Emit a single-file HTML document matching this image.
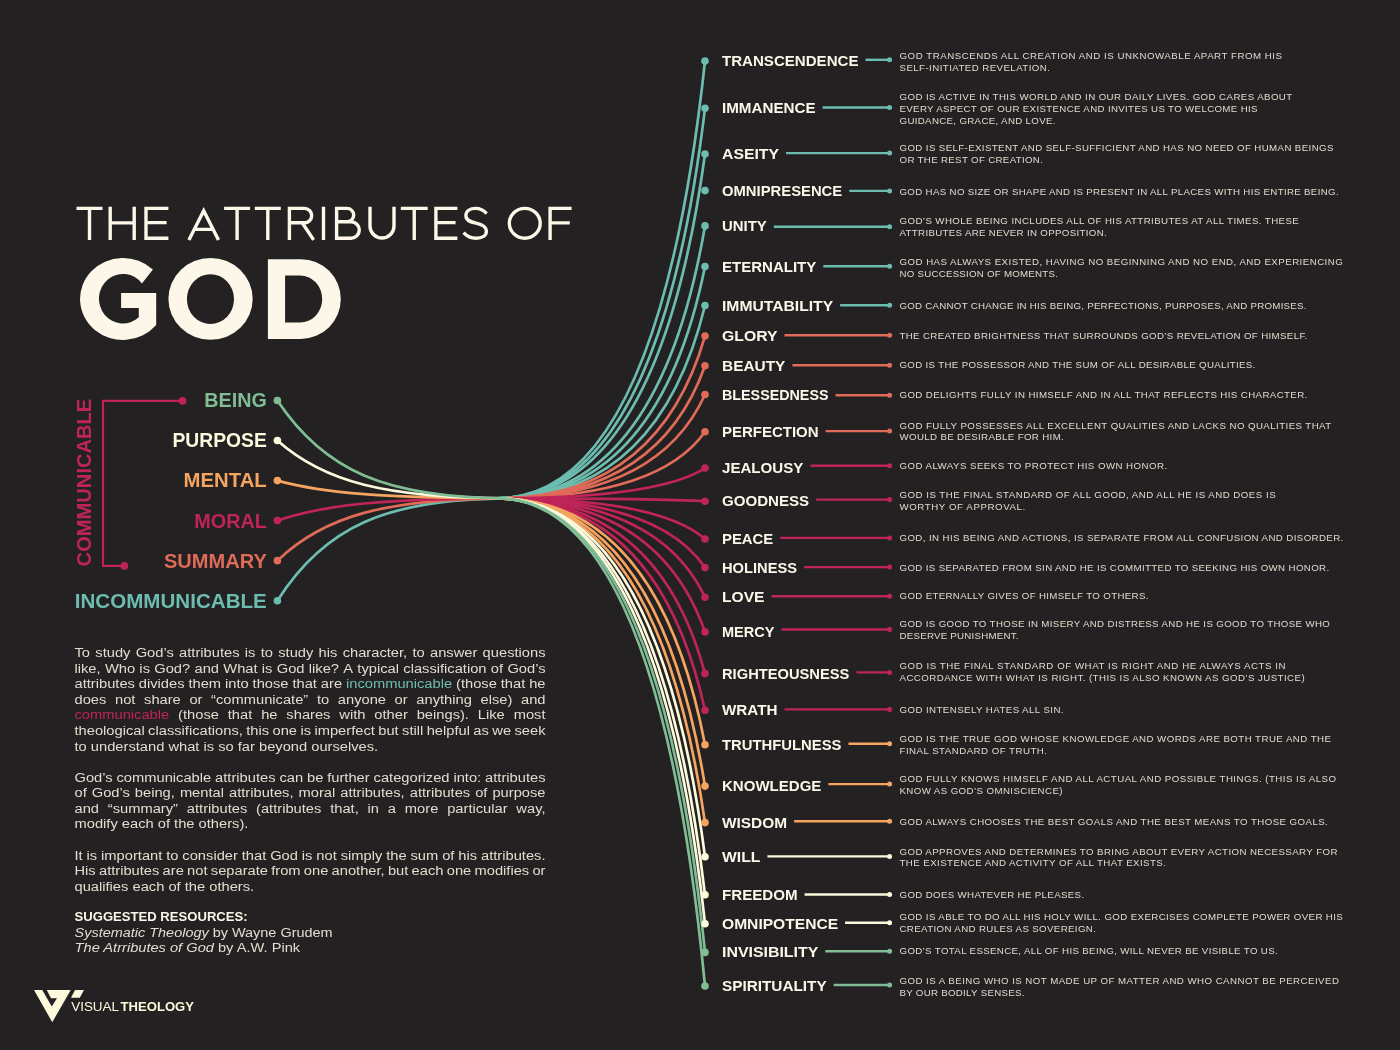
<!DOCTYPE html><html><head><meta charset="utf-8"><style>html,body{margin:0;padding:0;background:#232122;width:1400px;height:1050px;overflow:hidden}svg{display:block;will-change:transform}text{font-family:"Liberation Sans", sans-serif}</style></head><body>
<svg width="1400" height="1050" viewBox="0 0 1400 1050">
<rect width="1400" height="1050" fill="#232122"/>
<g fill="none" stroke-width="2.7" stroke-linecap="butt">
<path stroke="#6cbdb0" d="M277.4 600.7C323.4 528 385 498.3 510 498.3"/>
<path stroke="#df6b58" d="M277.4 560.66C323.4 516.38 385 498.3 510 498.3"/>
<path stroke="#bf2458" d="M277.4 520.62C323.4 504.77 385 498.3 510 498.3"/>
<path stroke="#f6a560" d="M277.4 480.58C323.4 493.16 385 498.3 510 498.3"/>
<path stroke="#fcf9dc" d="M277.4 440.54C323.4 481.55 385 498.3 510 498.3"/>
<path stroke="#80bd95" d="M277.4 400.5C323.4 469.94 385 498.3 510 498.3"/>
<path stroke="#6cbdb0" d="M497 498.3C605 498.3 674 349.62 705 61"/>
<path stroke="#6cbdb0" d="M497 498.3C605 498.3 674 365.7 705 108.3"/>
<path stroke="#6cbdb0" d="M497 498.3C605 498.3 674 381.24 705 154"/>
<path stroke="#6cbdb0" d="M497 498.3C605 498.3 674 405.68 705 225.9"/>
<path stroke="#6cbdb0" d="M497 498.3C605 498.3 674 419.52 705 266.6"/>
<path stroke="#6cbdb0" d="M497 498.3C605 498.3 674 432.75 705 305.5"/>
<path stroke="#df6b58" d="M497 498.3C605 498.3 674 443.15 705 336.1"/>
<path stroke="#df6b58" d="M497 498.3C605 498.3 674 453.22 705 365.7"/>
<path stroke="#df6b58" d="M497 498.3C605 498.3 674 463.01 705 394.5"/>
<path stroke="#df6b58" d="M497 498.3C605 498.3 674 475.69 705 431.8"/>
<path stroke="#bf2458" d="M497 498.3C605 498.3 674 488.03 705 468.1"/>
<path stroke="#bf2458" d="M497 498.3C605 498.3 674 499.29 705 501.2"/>
<path stroke="#bf2458" d="M497 498.3C605 498.3 674 512.14 705 539"/>
<path stroke="#bf2458" d="M497 498.3C605 498.3 674 521.86 705 567.6"/>
<path stroke="#bf2458" d="M497 498.3C605 498.3 674 531.93 705 597.2"/>
<path stroke="#bf2458" d="M497 498.3C605 498.3 674 543.72 705 631.9"/>
<path stroke="#bf2458" d="M497 498.3C605 498.3 674 557.9 705 673.6"/>
<path stroke="#bf2458" d="M497 498.3C605 498.3 674 570.35 705 710.2"/>
<path stroke="#f6a560" d="M497 498.3C605 498.3 674 582.11 705 744.8"/>
<path stroke="#f6a560" d="M497 498.3C605 498.3 674 596.15 705 786.1"/>
<path stroke="#f6a560" d="M497 498.3C605 498.3 674 608.56 705 822.6"/>
<path stroke="#fcf9dc" d="M497 498.3C605 498.3 674 620.16 705 856.7"/>
<path stroke="#fcf9dc" d="M497 498.3C605 498.3 674 633.11 705 894.8"/>
<path stroke="#fcf9dc" d="M497 498.3C605 498.3 674 642.94 705 923.7"/>
<path stroke="#80bd95" d="M497 498.3C605 498.3 674 652.69 705 952.4"/>
<path stroke="#80bd95" d="M497 498.3C605 498.3 674 664.12 705 986"/>
</g>
<circle cx="277.4" cy="400.5" r="3.8" fill="#80bd95"/>
<circle cx="277.4" cy="440.54" r="3.8" fill="#fcf9dc"/>
<circle cx="277.4" cy="480.58" r="3.8" fill="#f6a560"/>
<circle cx="277.4" cy="520.62" r="3.8" fill="#bf2458"/>
<circle cx="277.4" cy="560.66" r="3.8" fill="#df6b58"/>
<circle cx="277.4" cy="600.7" r="3.8" fill="#6cbdb0"/>
<circle cx="705" cy="61" r="3.8" fill="#6cbdb0"/>
<line x1="865.5" y1="59.8" x2="889.6" y2="59.8" stroke="#6cbdb0" stroke-width="2.4"/>
<circle cx="889.6" cy="59.8" r="2.5" fill="#6cbdb0"/>
<circle cx="705" cy="108.3" r="3.8" fill="#6cbdb0"/>
<line x1="822.6" y1="107.5" x2="889.6" y2="107.5" stroke="#6cbdb0" stroke-width="2.4"/>
<circle cx="889.6" cy="107.5" r="2.5" fill="#6cbdb0"/>
<circle cx="705" cy="154" r="3.8" fill="#6cbdb0"/>
<line x1="786" y1="153.1" x2="889.6" y2="153.1" stroke="#6cbdb0" stroke-width="2.4"/>
<circle cx="889.6" cy="153.1" r="2.5" fill="#6cbdb0"/>
<circle cx="705" cy="190.6" r="3.8" fill="#6cbdb0"/>
<line x1="849.2" y1="190.9" x2="889.6" y2="190.9" stroke="#6cbdb0" stroke-width="2.4"/>
<circle cx="889.6" cy="190.9" r="2.5" fill="#6cbdb0"/>
<circle cx="705" cy="225.9" r="3.8" fill="#6cbdb0"/>
<line x1="773.8" y1="226.7" x2="889.6" y2="226.7" stroke="#6cbdb0" stroke-width="2.4"/>
<circle cx="889.6" cy="226.7" r="2.5" fill="#6cbdb0"/>
<circle cx="705" cy="266.6" r="3.8" fill="#6cbdb0"/>
<line x1="823.3" y1="266.3" x2="889.6" y2="266.3" stroke="#6cbdb0" stroke-width="2.4"/>
<circle cx="889.6" cy="266.3" r="2.5" fill="#6cbdb0"/>
<circle cx="705" cy="305.5" r="3.8" fill="#6cbdb0"/>
<line x1="840.1" y1="305.3" x2="889.6" y2="305.3" stroke="#6cbdb0" stroke-width="2.4"/>
<circle cx="889.6" cy="305.3" r="2.5" fill="#6cbdb0"/>
<circle cx="705" cy="336.1" r="3.8" fill="#df6b58"/>
<line x1="784.5" y1="335.3" x2="889.6" y2="335.3" stroke="#df6b58" stroke-width="2.4"/>
<circle cx="889.6" cy="335.3" r="2.5" fill="#df6b58"/>
<circle cx="705" cy="365.7" r="3.8" fill="#df6b58"/>
<line x1="792.4" y1="365.2" x2="889.6" y2="365.2" stroke="#df6b58" stroke-width="2.4"/>
<circle cx="889.6" cy="365.2" r="2.5" fill="#df6b58"/>
<circle cx="705" cy="394.5" r="3.8" fill="#df6b58"/>
<line x1="835.5" y1="395.3" x2="889.6" y2="395.3" stroke="#df6b58" stroke-width="2.4"/>
<circle cx="889.6" cy="395.3" r="2.5" fill="#df6b58"/>
<circle cx="705" cy="431.8" r="3.8" fill="#df6b58"/>
<line x1="825.6" y1="431.1" x2="889.6" y2="431.1" stroke="#df6b58" stroke-width="2.4"/>
<circle cx="889.6" cy="431.1" r="2.5" fill="#df6b58"/>
<circle cx="705" cy="468.1" r="3.8" fill="#bf2458"/>
<line x1="810.4" y1="465.8" x2="889.6" y2="465.8" stroke="#bf2458" stroke-width="2.4"/>
<circle cx="889.6" cy="465.8" r="2.5" fill="#bf2458"/>
<circle cx="705" cy="501.2" r="3.8" fill="#bf2458"/>
<line x1="816.2" y1="499.6" x2="889.6" y2="499.6" stroke="#bf2458" stroke-width="2.4"/>
<circle cx="889.6" cy="499.6" r="2.5" fill="#bf2458"/>
<circle cx="705" cy="539" r="3.8" fill="#bf2458"/>
<line x1="780.2" y1="537.9" x2="889.6" y2="537.9" stroke="#bf2458" stroke-width="2.4"/>
<circle cx="889.6" cy="537.9" r="2.5" fill="#bf2458"/>
<circle cx="705" cy="567.6" r="3.8" fill="#bf2458"/>
<line x1="804" y1="567.1" x2="889.6" y2="567.1" stroke="#bf2458" stroke-width="2.4"/>
<circle cx="889.6" cy="567.1" r="2.5" fill="#bf2458"/>
<circle cx="705" cy="597.2" r="3.8" fill="#bf2458"/>
<line x1="771.5" y1="596.3" x2="889.6" y2="596.3" stroke="#bf2458" stroke-width="2.4"/>
<circle cx="889.6" cy="596.3" r="2.5" fill="#bf2458"/>
<circle cx="705" cy="631.9" r="3.8" fill="#bf2458"/>
<line x1="781.4" y1="629.5" x2="889.6" y2="629.5" stroke="#bf2458" stroke-width="2.4"/>
<circle cx="889.6" cy="629.5" r="2.5" fill="#bf2458"/>
<circle cx="705" cy="673.6" r="3.8" fill="#bf2458"/>
<line x1="856.4" y1="672.4" x2="889.6" y2="672.4" stroke="#bf2458" stroke-width="2.4"/>
<circle cx="889.6" cy="672.4" r="2.5" fill="#bf2458"/>
<circle cx="705" cy="710.2" r="3.8" fill="#bf2458"/>
<line x1="784.5" y1="709.4" x2="889.6" y2="709.4" stroke="#bf2458" stroke-width="2.4"/>
<circle cx="889.6" cy="709.4" r="2.5" fill="#bf2458"/>
<circle cx="705" cy="744.8" r="3.8" fill="#f6a560"/>
<line x1="848.5" y1="743.7" x2="889.6" y2="743.7" stroke="#f6a560" stroke-width="2.4"/>
<circle cx="889.6" cy="743.7" r="2.5" fill="#f6a560"/>
<circle cx="705" cy="786.1" r="3.8" fill="#f6a560"/>
<line x1="828.4" y1="784.1" x2="889.6" y2="784.1" stroke="#f6a560" stroke-width="2.4"/>
<circle cx="889.6" cy="784.1" r="2.5" fill="#f6a560"/>
<circle cx="705" cy="822.6" r="3.8" fill="#f6a560"/>
<line x1="794.1" y1="821.3" x2="889.6" y2="821.3" stroke="#f6a560" stroke-width="2.4"/>
<circle cx="889.6" cy="821.3" r="2.5" fill="#f6a560"/>
<circle cx="705" cy="856.7" r="3.8" fill="#fcf9dc"/>
<line x1="767.4" y1="856.4" x2="889.6" y2="856.4" stroke="#fcf9dc" stroke-width="2.4"/>
<circle cx="889.6" cy="856.4" r="2.5" fill="#fcf9dc"/>
<circle cx="705" cy="894.8" r="3.8" fill="#fcf9dc"/>
<line x1="804.6" y1="894.5" x2="889.6" y2="894.5" stroke="#fcf9dc" stroke-width="2.4"/>
<circle cx="889.6" cy="894.5" r="2.5" fill="#fcf9dc"/>
<circle cx="705" cy="923.7" r="3.8" fill="#fcf9dc"/>
<line x1="845.1" y1="922.7" x2="889.6" y2="922.7" stroke="#fcf9dc" stroke-width="2.4"/>
<circle cx="889.6" cy="922.7" r="2.5" fill="#fcf9dc"/>
<circle cx="705" cy="952.4" r="3.8" fill="#80bd95"/>
<line x1="825.3" y1="951.2" x2="889.6" y2="951.2" stroke="#80bd95" stroke-width="2.4"/>
<circle cx="889.6" cy="951.2" r="2.5" fill="#80bd95"/>
<circle cx="705" cy="986" r="3.8" fill="#80bd95"/>
<line x1="833.7" y1="985" x2="889.6" y2="985" stroke="#80bd95" stroke-width="2.4"/>
<circle cx="889.6" cy="985" r="2.5" fill="#80bd95"/>
<path d="M182.6 400.9H103V565.9H124.3" fill="none" stroke="#bf2458" stroke-width="2.2"/>
<circle cx="182.6" cy="400.9" r="3.8" fill="#bf2458"/><circle cx="124.3" cy="565.9" r="3.8" fill="#bf2458"/>
<path fill="#fcf9dc" d="M34 990H42.25L51.75 1006.5L57 998.25H51L46.75 990H70.75L52.25 1022.25Z M75 990H84L79.75 997.75H71Z"/>
<text x="722" y="66" font-size="14.2" font-weight="bold" fill="#fcf7e8" textLength="136.5" lengthAdjust="spacingAndGlyphs">TRANSCENDENCE</text>
<text x="899.5" y="59.1" font-size="9.7" fill="#e0dbce" textLength="382.5" lengthAdjust="spacing">GOD TRANSCENDS ALL CREATION AND IS UNKNOWABLE APART FROM HIS</text>
<text x="899.5" y="71" font-size="9.7" fill="#e0dbce" textLength="150.4" lengthAdjust="spacing">SELF-INITIATED REVELATION.</text>
<text x="722" y="113.3" font-size="14.2" font-weight="bold" fill="#fcf7e8" textLength="93.6" lengthAdjust="spacingAndGlyphs">IMMANENCE</text>
<text x="899.5" y="100" font-size="9.7" fill="#e0dbce" textLength="392.7" lengthAdjust="spacing">GOD IS ACTIVE IN THIS WORLD AND IN OUR DAILY LIVES. GOD CARES ABOUT</text>
<text x="899.5" y="111.9" font-size="9.7" fill="#e0dbce" textLength="358" lengthAdjust="spacing">EVERY ASPECT OF OUR EXISTENCE AND INVITES US TO WELCOME HIS</text>
<text x="899.5" y="123.6" font-size="9.7" fill="#e0dbce" textLength="156" lengthAdjust="spacing">GUIDANCE, GRACE, AND LOVE.</text>
<text x="722" y="159" font-size="14.2" font-weight="bold" fill="#fcf7e8" textLength="57" lengthAdjust="spacingAndGlyphs">ASEITY</text>
<text x="899.5" y="151" font-size="9.7" fill="#e0dbce" textLength="433.9" lengthAdjust="spacing">GOD IS SELF-EXISTENT AND SELF-SUFFICIENT AND HAS NO NEED OF HUMAN BEINGS</text>
<text x="899.5" y="163" font-size="9.7" fill="#e0dbce" textLength="143.4" lengthAdjust="spacing">OR THE REST OF CREATION.</text>
<text x="722" y="195.6" font-size="14.2" font-weight="bold" fill="#fcf7e8" textLength="120.2" lengthAdjust="spacingAndGlyphs">OMNIPRESENCE</text>
<text x="899.5" y="194.5" font-size="9.7" fill="#e0dbce" textLength="439.1" lengthAdjust="spacing">GOD HAS NO SIZE OR SHAPE AND IS PRESENT IN ALL PLACES WITH HIS ENTIRE BEING.</text>
<text x="722" y="230.9" font-size="14.2" font-weight="bold" fill="#fcf7e8" textLength="44.8" lengthAdjust="spacingAndGlyphs">UNITY</text>
<text x="899.5" y="224.4" font-size="9.7" fill="#e0dbce" textLength="399.3" lengthAdjust="spacing">GOD’S WHOLE BEING INCLUDES ALL OF HIS ATTRIBUTES AT ALL TIMES. THESE</text>
<text x="899.5" y="236" font-size="9.7" fill="#e0dbce" textLength="207.2" lengthAdjust="spacing">ATTRIBUTES ARE NEVER IN OPPOSITION.</text>
<text x="722" y="271.6" font-size="14.2" font-weight="bold" fill="#fcf7e8" textLength="94.3" lengthAdjust="spacingAndGlyphs">ETERNALITY</text>
<text x="899.5" y="264.8" font-size="9.7" fill="#e0dbce" textLength="443.3" lengthAdjust="spacing">GOD HAS ALWAYS EXISTED, HAVING NO BEGINNING AND NO END, AND EXPERIENCING</text>
<text x="899.5" y="276.6" font-size="9.7" fill="#e0dbce" textLength="158.4" lengthAdjust="spacing">NO SUCCESSION OF MOMENTS.</text>
<text x="722" y="310.5" font-size="14.2" font-weight="bold" fill="#fcf7e8" textLength="111.1" lengthAdjust="spacingAndGlyphs">IMMUTABILITY</text>
<text x="899.5" y="308.8" font-size="9.7" fill="#e0dbce" textLength="407" lengthAdjust="spacing">GOD CANNOT CHANGE IN HIS BEING, PERFECTIONS, PURPOSES, AND PROMISES.</text>
<text x="722" y="341.1" font-size="14.2" font-weight="bold" fill="#fcf7e8" textLength="55.5" lengthAdjust="spacingAndGlyphs">GLORY</text>
<text x="899.5" y="338.9" font-size="9.7" fill="#e0dbce" textLength="407.8" lengthAdjust="spacing">THE CREATED BRIGHTNESS THAT SURROUNDS GOD’S REVELATION OF HIMSELF.</text>
<text x="722" y="370.7" font-size="14.2" font-weight="bold" fill="#fcf7e8" textLength="63.4" lengthAdjust="spacingAndGlyphs">BEAUTY</text>
<text x="899.5" y="368.4" font-size="9.7" fill="#e0dbce" textLength="355.8" lengthAdjust="spacing">GOD IS THE POSSESSOR AND THE SUM OF ALL DESIRABLE QUALITIES.</text>
<text x="722" y="399.5" font-size="14.2" font-weight="bold" fill="#fcf7e8" textLength="106.5" lengthAdjust="spacingAndGlyphs">BLESSEDNESS</text>
<text x="899.5" y="397.5" font-size="9.7" fill="#e0dbce" textLength="407.8" lengthAdjust="spacing">GOD DELIGHTS FULLY IN HIMSELF AND IN ALL THAT REFLECTS HIS CHARACTER.</text>
<text x="722" y="436.8" font-size="14.2" font-weight="bold" fill="#fcf7e8" textLength="96.6" lengthAdjust="spacingAndGlyphs">PERFECTION</text>
<text x="899.5" y="428.8" font-size="9.7" fill="#e0dbce" textLength="431.7" lengthAdjust="spacing">GOD FULLY POSSESSES ALL EXCELLENT QUALITIES AND LACKS NO QUALITIES THAT</text>
<text x="899.5" y="440.4" font-size="9.7" fill="#e0dbce" textLength="164.3" lengthAdjust="spacing">WOULD BE DESIRABLE FOR HIM.</text>
<text x="722" y="473.1" font-size="14.2" font-weight="bold" fill="#fcf7e8" textLength="81.4" lengthAdjust="spacingAndGlyphs">JEALOUSY</text>
<text x="899.5" y="468.9" font-size="9.7" fill="#e0dbce" textLength="267.6" lengthAdjust="spacing">GOD ALWAYS SEEKS TO PROTECT HIS OWN HONOR.</text>
<text x="722" y="506.2" font-size="14.2" font-weight="bold" fill="#fcf7e8" textLength="87.2" lengthAdjust="spacingAndGlyphs">GOODNESS</text>
<text x="899.5" y="498.2" font-size="9.7" fill="#e0dbce" textLength="376.1" lengthAdjust="spacing">GOD IS THE FINAL STANDARD OF ALL GOOD, AND ALL HE IS AND DOES IS</text>
<text x="899.5" y="509.8" font-size="9.7" fill="#e0dbce" textLength="125.7" lengthAdjust="spacing">WORTHY OF APPROVAL.</text>
<text x="722" y="544" font-size="14.2" font-weight="bold" fill="#fcf7e8" textLength="51.2" lengthAdjust="spacingAndGlyphs">PEACE</text>
<text x="899.5" y="540.9" font-size="9.7" fill="#e0dbce" textLength="443.8" lengthAdjust="spacing">GOD, IN HIS BEING AND ACTIONS, IS SEPARATE FROM ALL CONFUSION AND DISORDER.</text>
<text x="722" y="572.6" font-size="14.2" font-weight="bold" fill="#fcf7e8" textLength="75" lengthAdjust="spacingAndGlyphs">HOLINESS</text>
<text x="899.5" y="571" font-size="9.7" fill="#e0dbce" textLength="429.6" lengthAdjust="spacing">GOD IS SEPARATED FROM SIN AND HE IS COMMITTED TO SEEKING HIS OWN HONOR.</text>
<text x="722" y="602.2" font-size="14.2" font-weight="bold" fill="#fcf7e8" textLength="42.5" lengthAdjust="spacingAndGlyphs">LOVE</text>
<text x="899.5" y="599.3" font-size="9.7" fill="#e0dbce" textLength="248.9" lengthAdjust="spacing">GOD ETERNALLY GIVES OF HIMSELF TO OTHERS.</text>
<text x="722" y="636.9" font-size="14.2" font-weight="bold" fill="#fcf7e8" textLength="52.4" lengthAdjust="spacingAndGlyphs">MERCY</text>
<text x="899.5" y="627" font-size="9.7" fill="#e0dbce" textLength="430.4" lengthAdjust="spacing">GOD IS GOOD TO THOSE IN MISERY AND DISTRESS AND HE IS GOOD TO THOSE WHO</text>
<text x="899.5" y="638.6" font-size="9.7" fill="#e0dbce" textLength="119" lengthAdjust="spacing">DESERVE PUNISHMENT.</text>
<text x="722" y="678.6" font-size="14.2" font-weight="bold" fill="#fcf7e8" textLength="127.4" lengthAdjust="spacingAndGlyphs">RIGHTEOUSNESS</text>
<text x="899.5" y="669.4" font-size="9.7" fill="#e0dbce" textLength="385.9" lengthAdjust="spacing">GOD IS THE FINAL STANDARD OF WHAT IS RIGHT AND HE ALWAYS ACTS IN</text>
<text x="899.5" y="681" font-size="9.7" fill="#e0dbce" textLength="405.2" lengthAdjust="spacing">ACCORDANCE WITH WHAT IS RIGHT. (THIS IS ALSO KNOWN AS GOD’S JUSTICE)</text>
<text x="722" y="715.2" font-size="14.2" font-weight="bold" fill="#fcf7e8" textLength="55.5" lengthAdjust="spacingAndGlyphs">WRATH</text>
<text x="899.5" y="713.1" font-size="9.7" fill="#e0dbce" textLength="164" lengthAdjust="spacing">GOD INTENSELY HATES ALL SIN.</text>
<text x="722" y="749.8" font-size="14.2" font-weight="bold" fill="#fcf7e8" textLength="119.5" lengthAdjust="spacingAndGlyphs">TRUTHFULNESS</text>
<text x="899.5" y="741.9" font-size="9.7" fill="#e0dbce" textLength="431.4" lengthAdjust="spacing">GOD IS THE TRUE GOD WHOSE KNOWLEDGE AND WORDS ARE BOTH TRUE AND THE</text>
<text x="899.5" y="753.8" font-size="9.7" fill="#e0dbce" textLength="147.5" lengthAdjust="spacing">FINAL STANDARD OF TRUTH.</text>
<text x="722" y="791.1" font-size="14.2" font-weight="bold" fill="#fcf7e8" textLength="99.4" lengthAdjust="spacingAndGlyphs">KNOWLEDGE</text>
<text x="899.5" y="781.8" font-size="9.7" fill="#e0dbce" textLength="436.6" lengthAdjust="spacing">GOD FULLY KNOWS HIMSELF AND ALL ACTUAL AND POSSIBLE THINGS. (THIS IS ALSO</text>
<text x="899.5" y="793.5" font-size="9.7" fill="#e0dbce" textLength="163" lengthAdjust="spacing">KNOW AS GOD’S OMNISCIENCE)</text>
<text x="722" y="827.6" font-size="14.2" font-weight="bold" fill="#fcf7e8" textLength="65.1" lengthAdjust="spacingAndGlyphs">WISDOM</text>
<text x="899.5" y="825.2" font-size="9.7" fill="#e0dbce" textLength="428.3" lengthAdjust="spacing">GOD ALWAYS CHOOSES THE BEST GOALS AND THE BEST MEANS TO THOSE GOALS.</text>
<text x="722" y="861.7" font-size="14.2" font-weight="bold" fill="#fcf7e8" textLength="38.4" lengthAdjust="spacingAndGlyphs">WILL</text>
<text x="899.5" y="854.5" font-size="9.7" fill="#e0dbce" textLength="437.9" lengthAdjust="spacing">GOD APPROVES AND DETERMINES TO BRING ABOUT EVERY ACTION NECESSARY FOR</text>
<text x="899.5" y="866.1" font-size="9.7" fill="#e0dbce" textLength="266.4" lengthAdjust="spacing">THE EXISTENCE AND ACTIVITY OF ALL THAT EXISTS.</text>
<text x="722" y="899.8" font-size="14.2" font-weight="bold" fill="#fcf7e8" textLength="75.6" lengthAdjust="spacingAndGlyphs">FREEDOM</text>
<text x="899.5" y="897.7" font-size="9.7" fill="#e0dbce" textLength="184.6" lengthAdjust="spacing">GOD DOES WHATEVER HE PLEASES.</text>
<text x="722" y="928.7" font-size="14.2" font-weight="bold" fill="#fcf7e8" textLength="116.1" lengthAdjust="spacingAndGlyphs">OMNIPOTENCE</text>
<text x="899.5" y="920.3" font-size="9.7" fill="#e0dbce" textLength="443.3" lengthAdjust="spacing">GOD IS ABLE TO DO ALL HIS HOLY WILL. GOD EXERCISES COMPLETE POWER OVER HIS</text>
<text x="899.5" y="931.9" font-size="9.7" fill="#e0dbce" textLength="196.4" lengthAdjust="spacing">CREATION AND RULES AS SOVEREIGN.</text>
<text x="722" y="957.4" font-size="14.2" font-weight="bold" fill="#fcf7e8" textLength="96.3" lengthAdjust="spacingAndGlyphs">INVISIBILITY</text>
<text x="899.5" y="954.3" font-size="9.7" fill="#e0dbce" textLength="378.2" lengthAdjust="spacing">GOD’S TOTAL ESSENCE, ALL OF HIS BEING, WILL NEVER BE VISIBLE TO US.</text>
<text x="722" y="991" font-size="14.2" font-weight="bold" fill="#fcf7e8" textLength="104.7" lengthAdjust="spacingAndGlyphs">SPIRITUALITY</text>
<text x="899.5" y="983.9" font-size="9.7" fill="#e0dbce" textLength="439.4" lengthAdjust="spacing">GOD IS A BEING WHO IS NOT MADE UP OF MATTER AND WHO CANNOT BE PERCEIVED</text>
<text x="899.5" y="995.5" font-size="9.7" fill="#e0dbce" textLength="124.9" lengthAdjust="spacing">BY OUR BODILY SENSES.</text>
<text x="204.3" y="407.2" font-size="19.6" font-weight="bold" fill="#80bd95" textLength="62.5" lengthAdjust="spacingAndGlyphs">BEING</text>
<text x="172.4" y="447.2" font-size="19.6" font-weight="bold" fill="#fcf9dc" textLength="94.4" lengthAdjust="spacingAndGlyphs">PURPOSE</text>
<text x="183.6" y="487.4" font-size="19.6" font-weight="bold" fill="#f6a560" textLength="83.2" lengthAdjust="spacingAndGlyphs">MENTAL</text>
<text x="194.3" y="527.6" font-size="19.6" font-weight="bold" fill="#bf2458" textLength="72.5" lengthAdjust="spacingAndGlyphs">MORAL</text>
<text x="163.9" y="567.7" font-size="19.6" font-weight="bold" fill="#df6b58" textLength="102.9" lengthAdjust="spacingAndGlyphs">SUMMARY</text>
<text x="74.8" y="608.1" font-size="19.6" font-weight="bold" fill="#6cbdb0" textLength="192" lengthAdjust="spacingAndGlyphs">INCOMMUNICABLE</text>
<text transform="translate(91.2 566.4) rotate(-90)" x="0" y="0" font-size="19.3" font-weight="bold" fill="#bf2458" textLength="167.7" lengthAdjust="spacingAndGlyphs">COMMUNICABLE</text>
<path d="M76.5 208.4H102.5M89.5 206.7V239.9M110.2 206.7V239.9M134.2 206.7V239.9M110.2 222.9H134.2M168.4 208.4H146V238.2H168.4M146 222.6H166.6M188.9 239.9L203.7 210.7L218.5 239.9M193.6 229.4H213.8M224.1 208.4H250.1M237.1 206.7V239.9M254.8 208.4H280.8M267.8 206.7V239.9M289.4 239.9V208.4H304.5A7.2 7.2 0 0 1 304.5 222.8H289.4M302.2 222.8L313.6 239.9M323.5 206.7V239.9M336.6 206.7V239.9M336.6 208.4H347A6.7 6.7 0 0 1 347 221.8H336.6M347 221.8H351.1A8.2 8.2 0 0 1 351.1 238.2H336.6M370 206.7V226A12 12 0 0 0 394 226V206.7M400.8 208.4H427.7M414.25 206.7V239.9M457.4 208.4H435.9V238.2H457.4M435.9 222.6H455.6M486.6 213.6C483.5 210 479.8 208.4 475.6 208.4C469.8 208.4 465.9 211.3 465.9 215.6C465.9 220.4 470 221.9 476 223.2C482.8 224.7 486.4 227.2 486.4 231.2C486.4 235.6 482.2 238.2 476 238.2C470.9 238.2 466.8 236.2 463.6 232.6M550.1 206.7V239.9M550.1 208.4H571.6M550.1 222.9H569.8" fill="none" stroke="#fcf7e8" stroke-width="3.4" stroke-linejoin="miter" stroke-miterlimit="10"/>
<ellipse cx="524.75" cy="223.3" rx="15.45" ry="14.9" fill="none" stroke="#fcf7e8" stroke-width="3.4"/>
<path d="M152.9 269.5A43 41 0 1 0 156.2 325.1V292.9H121.1V308.1H138.8V317.3A24 24.75 0 1 1 141.9 283.5ZM168.4 298.85A42.15 40.95 0 1 0 252.7 298.85A42.15 40.95 0 1 0 168.4 298.85ZM186.9 299.1A23.55 24.9 0 1 1 234 299.1A23.55 24.9 0 1 1 186.9 299.1ZM267.9 259.2H301A39.8 39.85 0 0 1 301 338.9H267.9ZM285.1 275.4H300A22.2 23.6 0 0 1 300 322.6H285.1Z" fill="#fcf7e8" fill-rule="evenodd"/>
<text x="71.2" y="1011" font-size="12.8" fill="#fcf9dc" textLength="47.8" lengthAdjust="spacingAndGlyphs">VISUAL</text>
<text x="120.5" y="1011" font-size="12.8" font-weight="bold" fill="#fcf9dc" textLength="73.5" lengthAdjust="spacingAndGlyphs">THEOLOGY</text>
<text x="74.5" y="657.1" font-size="12.5" fill="#e2ddd0" textLength="15.51" lengthAdjust="spacingAndGlyphs">To</text>
<text x="95.3" y="657.1" font-size="12.5" fill="#e2ddd0" textLength="35.11" lengthAdjust="spacingAndGlyphs">study</text>
<text x="135.69" y="657.1" font-size="12.5" fill="#e2ddd0" textLength="38.1" lengthAdjust="spacingAndGlyphs">God’s</text>
<text x="179.08" y="657.1" font-size="12.5" fill="#e2ddd0" textLength="60.41" lengthAdjust="spacingAndGlyphs">attributes</text>
<text x="244.78" y="657.1" font-size="12.5" fill="#e2ddd0" textLength="10.61" lengthAdjust="spacingAndGlyphs">is</text>
<text x="260.68" y="657.1" font-size="12.5" fill="#e2ddd0" textLength="12.25" lengthAdjust="spacingAndGlyphs">to</text>
<text x="278.22" y="657.1" font-size="12.5" fill="#e2ddd0" textLength="35.11" lengthAdjust="spacingAndGlyphs">study</text>
<text x="318.61" y="657.1" font-size="12.5" fill="#e2ddd0" textLength="18.78" lengthAdjust="spacingAndGlyphs">his</text>
<text x="342.67" y="657.1" font-size="12.5" fill="#e2ddd0" textLength="64.49" lengthAdjust="spacingAndGlyphs">character,</text>
<text x="412.45" y="657.1" font-size="12.5" fill="#e2ddd0" textLength="12.25" lengthAdjust="spacingAndGlyphs">to</text>
<text x="429.99" y="657.1" font-size="12.5" fill="#e2ddd0" textLength="47.35" lengthAdjust="spacingAndGlyphs">answer</text>
<text x="482.63" y="657.1" font-size="12.5" fill="#e2ddd0" textLength="62.87" lengthAdjust="spacingAndGlyphs">questions</text>
<text x="74.5" y="672.67" font-size="12.5" fill="#e2ddd0" textLength="26.12" lengthAdjust="spacingAndGlyphs">like,</text>
<text x="104.91" y="672.67" font-size="12.5" fill="#e2ddd0" textLength="30.2" lengthAdjust="spacingAndGlyphs">Who</text>
<text x="139.39" y="672.67" font-size="12.5" fill="#e2ddd0" textLength="10.61" lengthAdjust="spacingAndGlyphs">is</text>
<text x="154.29" y="672.67" font-size="12.5" fill="#e2ddd0" textLength="35.93" lengthAdjust="spacingAndGlyphs">God?</text>
<text x="194.51" y="672.67" font-size="12.5" fill="#e2ddd0" textLength="24.51" lengthAdjust="spacingAndGlyphs">and</text>
<text x="223.3" y="672.67" font-size="12.5" fill="#e2ddd0" textLength="34.28" lengthAdjust="spacingAndGlyphs">What</text>
<text x="261.87" y="672.67" font-size="12.5" fill="#e2ddd0" textLength="10.61" lengthAdjust="spacingAndGlyphs">is</text>
<text x="276.76" y="672.67" font-size="12.5" fill="#e2ddd0" textLength="27.76" lengthAdjust="spacingAndGlyphs">God</text>
<text x="308.81" y="672.67" font-size="12.5" fill="#e2ddd0" textLength="30.21" lengthAdjust="spacingAndGlyphs">like?</text>
<text x="343.31" y="672.67" font-size="12.5" fill="#e2ddd0" textLength="9.8" lengthAdjust="spacingAndGlyphs">A</text>
<text x="357.39" y="672.67" font-size="12.5" fill="#e2ddd0" textLength="41.63" lengthAdjust="spacingAndGlyphs">typical</text>
<text x="403.31" y="672.67" font-size="12.5" fill="#e2ddd0" textLength="83.26" lengthAdjust="spacingAndGlyphs">classification</text>
<text x="490.86" y="672.67" font-size="12.5" fill="#e2ddd0" textLength="12.25" lengthAdjust="spacingAndGlyphs">of</text>
<text x="507.4" y="672.67" font-size="12.5" fill="#e2ddd0" textLength="38.1" lengthAdjust="spacingAndGlyphs">God’s</text>
<text x="74.5" y="688.24" font-size="12.5" fill="#e2ddd0" textLength="60.41" lengthAdjust="spacingAndGlyphs">attributes</text>
<text x="138.82" y="688.24" font-size="12.5" fill="#e2ddd0" textLength="45.72" lengthAdjust="spacingAndGlyphs">divides</text>
<text x="188.45" y="688.24" font-size="12.5" fill="#e2ddd0" textLength="32.65" lengthAdjust="spacingAndGlyphs">them</text>
<text x="225.01" y="688.24" font-size="12.5" fill="#e2ddd0" textLength="23.68" lengthAdjust="spacingAndGlyphs">into</text>
<text x="252.6" y="688.24" font-size="12.5" fill="#e2ddd0" textLength="35.93" lengthAdjust="spacingAndGlyphs">those</text>
<text x="292.44" y="688.24" font-size="12.5" fill="#e2ddd0" textLength="24.5" lengthAdjust="spacingAndGlyphs">that</text>
<text x="320.85" y="688.24" font-size="12.5" fill="#e2ddd0" textLength="21.23" lengthAdjust="spacingAndGlyphs">are</text>
<text x="345.99" y="688.24" font-size="12.5" fill="#6cbdb0" textLength="106.13" lengthAdjust="spacingAndGlyphs">incommunicable</text>
<text x="456.02" y="688.24" font-size="12.5" fill="#e2ddd0" textLength="40.82" lengthAdjust="spacingAndGlyphs">(those</text>
<text x="500.76" y="688.24" font-size="12.5" fill="#e2ddd0" textLength="24.5" lengthAdjust="spacingAndGlyphs">that</text>
<text x="529.16" y="688.24" font-size="12.5" fill="#e2ddd0" textLength="16.34" lengthAdjust="spacingAndGlyphs">he</text>
<text x="74.5" y="703.81" font-size="12.5" fill="#e2ddd0" textLength="31.85" lengthAdjust="spacingAndGlyphs">does</text>
<text x="114.99" y="703.81" font-size="12.5" fill="#e2ddd0" textLength="20.42" lengthAdjust="spacingAndGlyphs">not</text>
<text x="144.06" y="703.81" font-size="12.5" fill="#e2ddd0" textLength="36.74" lengthAdjust="spacingAndGlyphs">share</text>
<text x="189.44" y="703.81" font-size="12.5" fill="#e2ddd0" textLength="13.06" lengthAdjust="spacingAndGlyphs">or</text>
<text x="211.14" y="703.81" font-size="12.5" fill="#e2ddd0" textLength="97.13" lengthAdjust="spacingAndGlyphs">“communicate”</text>
<text x="316.91" y="703.81" font-size="12.5" fill="#e2ddd0" textLength="12.25" lengthAdjust="spacingAndGlyphs">to</text>
<text x="337.81" y="703.81" font-size="12.5" fill="#e2ddd0" textLength="48.19" lengthAdjust="spacingAndGlyphs">anyone</text>
<text x="394.64" y="703.81" font-size="12.5" fill="#e2ddd0" textLength="13.06" lengthAdjust="spacingAndGlyphs">or</text>
<text x="416.34" y="703.81" font-size="12.5" fill="#e2ddd0" textLength="55.53" lengthAdjust="spacingAndGlyphs">anything</text>
<text x="480.52" y="703.81" font-size="12.5" fill="#e2ddd0" textLength="31.83" lengthAdjust="spacingAndGlyphs">else)</text>
<text x="520.99" y="703.81" font-size="12.5" fill="#e2ddd0" textLength="24.51" lengthAdjust="spacingAndGlyphs">and</text>
<text x="74.5" y="719.38" font-size="12.5" fill="#bf2458" textLength="94.69" lengthAdjust="spacingAndGlyphs">communicable</text>
<text x="178.08" y="719.38" font-size="12.5" fill="#e2ddd0" textLength="40.82" lengthAdjust="spacingAndGlyphs">(those</text>
<text x="227.78" y="719.38" font-size="12.5" fill="#e2ddd0" textLength="24.5" lengthAdjust="spacingAndGlyphs">that</text>
<text x="261.16" y="719.38" font-size="12.5" fill="#e2ddd0" textLength="16.34" lengthAdjust="spacingAndGlyphs">he</text>
<text x="286.38" y="719.38" font-size="12.5" fill="#e2ddd0" textLength="44.08" lengthAdjust="spacingAndGlyphs">shares</text>
<text x="339.35" y="719.38" font-size="12.5" fill="#e2ddd0" textLength="26.12" lengthAdjust="spacingAndGlyphs">with</text>
<text x="374.35" y="719.38" font-size="12.5" fill="#e2ddd0" textLength="33.48" lengthAdjust="spacingAndGlyphs">other</text>
<text x="416.71" y="719.38" font-size="12.5" fill="#e2ddd0" textLength="52.25" lengthAdjust="spacingAndGlyphs">beings).</text>
<text x="477.85" y="719.38" font-size="12.5" fill="#e2ddd0" textLength="26.94" lengthAdjust="spacingAndGlyphs">Like</text>
<text x="513.67" y="719.38" font-size="12.5" fill="#e2ddd0" textLength="31.83" lengthAdjust="spacingAndGlyphs">most</text>
<text x="74.5" y="734.95" font-size="12.5" fill="#e2ddd0" textLength="70.22" lengthAdjust="spacingAndGlyphs">theological</text>
<text x="148.13" y="734.95" font-size="12.5" fill="#e2ddd0" textLength="94.69" lengthAdjust="spacingAndGlyphs">classifications,</text>
<text x="246.23" y="734.95" font-size="12.5" fill="#e2ddd0" textLength="22.86" lengthAdjust="spacingAndGlyphs">this</text>
<text x="272.49" y="734.95" font-size="12.5" fill="#e2ddd0" textLength="24.51" lengthAdjust="spacingAndGlyphs">one</text>
<text x="300.41" y="734.95" font-size="12.5" fill="#e2ddd0" textLength="10.61" lengthAdjust="spacingAndGlyphs">is</text>
<text x="314.42" y="734.95" font-size="12.5" fill="#e2ddd0" textLength="60.4" lengthAdjust="spacingAndGlyphs">imperfect</text>
<text x="378.23" y="734.95" font-size="12.5" fill="#e2ddd0" textLength="20.42" lengthAdjust="spacingAndGlyphs">but</text>
<text x="402.06" y="734.95" font-size="12.5" fill="#e2ddd0" textLength="21.21" lengthAdjust="spacingAndGlyphs">still</text>
<text x="426.68" y="734.95" font-size="12.5" fill="#e2ddd0" textLength="43.28" lengthAdjust="spacingAndGlyphs">helpful</text>
<text x="473.37" y="734.95" font-size="12.5" fill="#e2ddd0" textLength="15.51" lengthAdjust="spacingAndGlyphs">as</text>
<text x="492.29" y="734.95" font-size="12.5" fill="#e2ddd0" textLength="18.78" lengthAdjust="spacingAndGlyphs">we</text>
<text x="514.48" y="734.95" font-size="12.5" fill="#e2ddd0" textLength="31.02" lengthAdjust="spacingAndGlyphs">seek</text>
<text x="74.5" y="750.52" font-size="12.5" fill="#e2ddd0" textLength="12.25" lengthAdjust="spacingAndGlyphs">to</text>
<text x="90.83" y="750.52" font-size="12.5" fill="#e2ddd0" textLength="73.49" lengthAdjust="spacingAndGlyphs">understand</text>
<text x="168.41" y="750.52" font-size="12.5" fill="#e2ddd0" textLength="31.02" lengthAdjust="spacingAndGlyphs">what</text>
<text x="203.51" y="750.52" font-size="12.5" fill="#e2ddd0" textLength="10.61" lengthAdjust="spacingAndGlyphs">is</text>
<text x="218.2" y="750.52" font-size="12.5" fill="#e2ddd0" textLength="15.51" lengthAdjust="spacingAndGlyphs">so</text>
<text x="237.79" y="750.52" font-size="12.5" fill="#e2ddd0" textLength="17.14" lengthAdjust="spacingAndGlyphs">far</text>
<text x="259.01" y="750.52" font-size="12.5" fill="#e2ddd0" textLength="48.19" lengthAdjust="spacingAndGlyphs">beyond</text>
<text x="311.28" y="750.52" font-size="12.5" fill="#e2ddd0" textLength="66.94" lengthAdjust="spacingAndGlyphs">ourselves.</text>
<text x="74.5" y="781.66" font-size="12.5" fill="#e2ddd0" textLength="38.1" lengthAdjust="spacingAndGlyphs">God’s</text>
<text x="116.5" y="781.66" font-size="12.5" fill="#e2ddd0" textLength="94.69" lengthAdjust="spacingAndGlyphs">communicable</text>
<text x="215.1" y="781.66" font-size="12.5" fill="#e2ddd0" textLength="60.41" lengthAdjust="spacingAndGlyphs">attributes</text>
<text x="279.42" y="781.66" font-size="12.5" fill="#e2ddd0" textLength="23.68" lengthAdjust="spacingAndGlyphs">can</text>
<text x="307" y="781.66" font-size="12.5" fill="#e2ddd0" textLength="16.34" lengthAdjust="spacingAndGlyphs">be</text>
<text x="327.24" y="781.66" font-size="12.5" fill="#e2ddd0" textLength="42.45" lengthAdjust="spacingAndGlyphs">further</text>
<text x="373.59" y="781.66" font-size="12.5" fill="#e2ddd0" textLength="75.93" lengthAdjust="spacingAndGlyphs">categorized</text>
<text x="453.42" y="781.66" font-size="12.5" fill="#e2ddd0" textLength="27.76" lengthAdjust="spacingAndGlyphs">into:</text>
<text x="485.09" y="781.66" font-size="12.5" fill="#e2ddd0" textLength="60.41" lengthAdjust="spacingAndGlyphs">attributes</text>
<text x="74.5" y="797.23" font-size="12.5" fill="#e2ddd0" textLength="12.25" lengthAdjust="spacingAndGlyphs">of</text>
<text x="91.76" y="797.23" font-size="12.5" fill="#e2ddd0" textLength="38.1" lengthAdjust="spacingAndGlyphs">God’s</text>
<text x="134.87" y="797.23" font-size="12.5" fill="#e2ddd0" textLength="40.02" lengthAdjust="spacingAndGlyphs">being,</text>
<text x="179.9" y="797.23" font-size="12.5" fill="#e2ddd0" textLength="44.08" lengthAdjust="spacingAndGlyphs">mental</text>
<text x="228.99" y="797.23" font-size="12.5" fill="#e2ddd0" textLength="64.49" lengthAdjust="spacingAndGlyphs">attributes,</text>
<text x="298.5" y="797.23" font-size="12.5" fill="#e2ddd0" textLength="36.73" lengthAdjust="spacingAndGlyphs">moral</text>
<text x="340.23" y="797.23" font-size="12.5" fill="#e2ddd0" textLength="64.49" lengthAdjust="spacingAndGlyphs">attributes,</text>
<text x="409.74" y="797.23" font-size="12.5" fill="#e2ddd0" textLength="60.41" lengthAdjust="spacingAndGlyphs">attributes</text>
<text x="475.16" y="797.23" font-size="12.5" fill="#e2ddd0" textLength="12.25" lengthAdjust="spacingAndGlyphs">of</text>
<text x="492.42" y="797.23" font-size="12.5" fill="#e2ddd0" textLength="53.08" lengthAdjust="spacingAndGlyphs">purpose</text>
<text x="74.5" y="812.8" font-size="12.5" fill="#e2ddd0" textLength="24.51" lengthAdjust="spacingAndGlyphs">and</text>
<text x="107.83" y="812.8" font-size="12.5" fill="#e2ddd0" textLength="70.17" lengthAdjust="spacingAndGlyphs">“summary”</text>
<text x="186.83" y="812.8" font-size="12.5" fill="#e2ddd0" textLength="60.41" lengthAdjust="spacingAndGlyphs">attributes</text>
<text x="256.07" y="812.8" font-size="12.5" fill="#e2ddd0" textLength="65.3" lengthAdjust="spacingAndGlyphs">(attributes</text>
<text x="330.2" y="812.8" font-size="12.5" fill="#e2ddd0" textLength="28.58" lengthAdjust="spacingAndGlyphs">that,</text>
<text x="367.61" y="812.8" font-size="12.5" fill="#e2ddd0" textLength="11.43" lengthAdjust="spacingAndGlyphs">in</text>
<text x="387.87" y="812.8" font-size="12.5" fill="#e2ddd0" textLength="8.17" lengthAdjust="spacingAndGlyphs">a</text>
<text x="404.87" y="812.8" font-size="12.5" fill="#e2ddd0" textLength="33.46" lengthAdjust="spacingAndGlyphs">more</text>
<text x="447.16" y="812.8" font-size="12.5" fill="#e2ddd0" textLength="60.41" lengthAdjust="spacingAndGlyphs">particular</text>
<text x="516.39" y="812.8" font-size="12.5" fill="#e2ddd0" textLength="29.11" lengthAdjust="spacingAndGlyphs">way,</text>
<text x="74.5" y="828.37" font-size="12.5" fill="#e2ddd0" textLength="43.26" lengthAdjust="spacingAndGlyphs">modify</text>
<text x="121.84" y="828.37" font-size="12.5" fill="#e2ddd0" textLength="31.85" lengthAdjust="spacingAndGlyphs">each</text>
<text x="157.77" y="828.37" font-size="12.5" fill="#e2ddd0" textLength="12.25" lengthAdjust="spacingAndGlyphs">of</text>
<text x="174.1" y="828.37" font-size="12.5" fill="#e2ddd0" textLength="20.42" lengthAdjust="spacingAndGlyphs">the</text>
<text x="198.6" y="828.37" font-size="12.5" fill="#e2ddd0" textLength="49.79" lengthAdjust="spacingAndGlyphs">others).</text>
<text x="74.5" y="859.51" font-size="12.5" fill="#e2ddd0" textLength="8.16" lengthAdjust="spacingAndGlyphs">It</text>
<text x="86.57" y="859.51" font-size="12.5" fill="#e2ddd0" textLength="10.61" lengthAdjust="spacingAndGlyphs">is</text>
<text x="101.08" y="859.51" font-size="12.5" fill="#e2ddd0" textLength="61.22" lengthAdjust="spacingAndGlyphs">important</text>
<text x="166.2" y="859.51" font-size="12.5" fill="#e2ddd0" textLength="12.25" lengthAdjust="spacingAndGlyphs">to</text>
<text x="182.36" y="859.51" font-size="12.5" fill="#e2ddd0" textLength="55.52" lengthAdjust="spacingAndGlyphs">consider</text>
<text x="241.78" y="859.51" font-size="12.5" fill="#e2ddd0" textLength="24.5" lengthAdjust="spacingAndGlyphs">that</text>
<text x="270.18" y="859.51" font-size="12.5" fill="#e2ddd0" textLength="27.76" lengthAdjust="spacingAndGlyphs">God</text>
<text x="301.85" y="859.51" font-size="12.5" fill="#e2ddd0" textLength="10.61" lengthAdjust="spacingAndGlyphs">is</text>
<text x="316.36" y="859.51" font-size="12.5" fill="#e2ddd0" textLength="20.42" lengthAdjust="spacingAndGlyphs">not</text>
<text x="340.68" y="859.51" font-size="12.5" fill="#e2ddd0" textLength="41.62" lengthAdjust="spacingAndGlyphs">simply</text>
<text x="386.2" y="859.51" font-size="12.5" fill="#e2ddd0" textLength="20.42" lengthAdjust="spacingAndGlyphs">the</text>
<text x="410.52" y="859.51" font-size="12.5" fill="#e2ddd0" textLength="27.75" lengthAdjust="spacingAndGlyphs">sum</text>
<text x="442.17" y="859.51" font-size="12.5" fill="#e2ddd0" textLength="12.25" lengthAdjust="spacingAndGlyphs">of</text>
<text x="458.33" y="859.51" font-size="12.5" fill="#e2ddd0" textLength="18.78" lengthAdjust="spacingAndGlyphs">his</text>
<text x="481.01" y="859.51" font-size="12.5" fill="#e2ddd0" textLength="64.49" lengthAdjust="spacingAndGlyphs">attributes.</text>
<text x="74.5" y="875.08" font-size="12.5" fill="#e2ddd0" textLength="21.21" lengthAdjust="spacingAndGlyphs">His</text>
<text x="98.97" y="875.08" font-size="12.5" fill="#e2ddd0" textLength="60.41" lengthAdjust="spacingAndGlyphs">attributes</text>
<text x="162.64" y="875.08" font-size="12.5" fill="#e2ddd0" textLength="21.23" lengthAdjust="spacingAndGlyphs">are</text>
<text x="187.13" y="875.08" font-size="12.5" fill="#e2ddd0" textLength="20.42" lengthAdjust="spacingAndGlyphs">not</text>
<text x="210.8" y="875.08" font-size="12.5" fill="#e2ddd0" textLength="57.16" lengthAdjust="spacingAndGlyphs">separate</text>
<text x="271.21" y="875.08" font-size="12.5" fill="#e2ddd0" textLength="29.38" lengthAdjust="spacingAndGlyphs">from</text>
<text x="303.85" y="875.08" font-size="12.5" fill="#e2ddd0" textLength="24.51" lengthAdjust="spacingAndGlyphs">one</text>
<text x="331.61" y="875.08" font-size="12.5" fill="#e2ddd0" textLength="53.08" lengthAdjust="spacingAndGlyphs">another,</text>
<text x="387.95" y="875.08" font-size="12.5" fill="#e2ddd0" textLength="20.42" lengthAdjust="spacingAndGlyphs">but</text>
<text x="411.62" y="875.08" font-size="12.5" fill="#e2ddd0" textLength="31.85" lengthAdjust="spacingAndGlyphs">each</text>
<text x="446.73" y="875.08" font-size="12.5" fill="#e2ddd0" textLength="24.51" lengthAdjust="spacingAndGlyphs">one</text>
<text x="474.49" y="875.08" font-size="12.5" fill="#e2ddd0" textLength="54.69" lengthAdjust="spacingAndGlyphs">modifies</text>
<text x="532.44" y="875.08" font-size="12.5" fill="#e2ddd0" textLength="13.06" lengthAdjust="spacingAndGlyphs">or</text>
<text x="74.5" y="890.65" font-size="12.5" fill="#e2ddd0" textLength="53.89" lengthAdjust="spacingAndGlyphs">qualifies</text>
<text x="132.47" y="890.65" font-size="12.5" fill="#e2ddd0" textLength="31.85" lengthAdjust="spacingAndGlyphs">each</text>
<text x="168.4" y="890.65" font-size="12.5" fill="#e2ddd0" textLength="12.25" lengthAdjust="spacingAndGlyphs">of</text>
<text x="184.73" y="890.65" font-size="12.5" fill="#e2ddd0" textLength="20.42" lengthAdjust="spacingAndGlyphs">the</text>
<text x="209.23" y="890.65" font-size="12.5" fill="#e2ddd0" textLength="44.9" lengthAdjust="spacingAndGlyphs">others.</text>
<text x="74.6" y="920.9" font-size="12.5" font-weight="bold" fill="#fcf7e8" textLength="173" lengthAdjust="spacingAndGlyphs">SUGGESTED RESOURCES:</text>
<text x="74.6" y="936.6" font-size="12.5" fill="#e2ddd0" textLength="258" lengthAdjust="spacingAndGlyphs"><tspan font-style="italic">Systematic Theology</tspan> by Wayne Grudem</text>
<text x="74.6" y="952.2" font-size="12.5" fill="#e2ddd0" textLength="225.5" lengthAdjust="spacingAndGlyphs"><tspan font-style="italic">The Atrributes of God</tspan> by A.W. Pink</text>
</svg></body></html>
